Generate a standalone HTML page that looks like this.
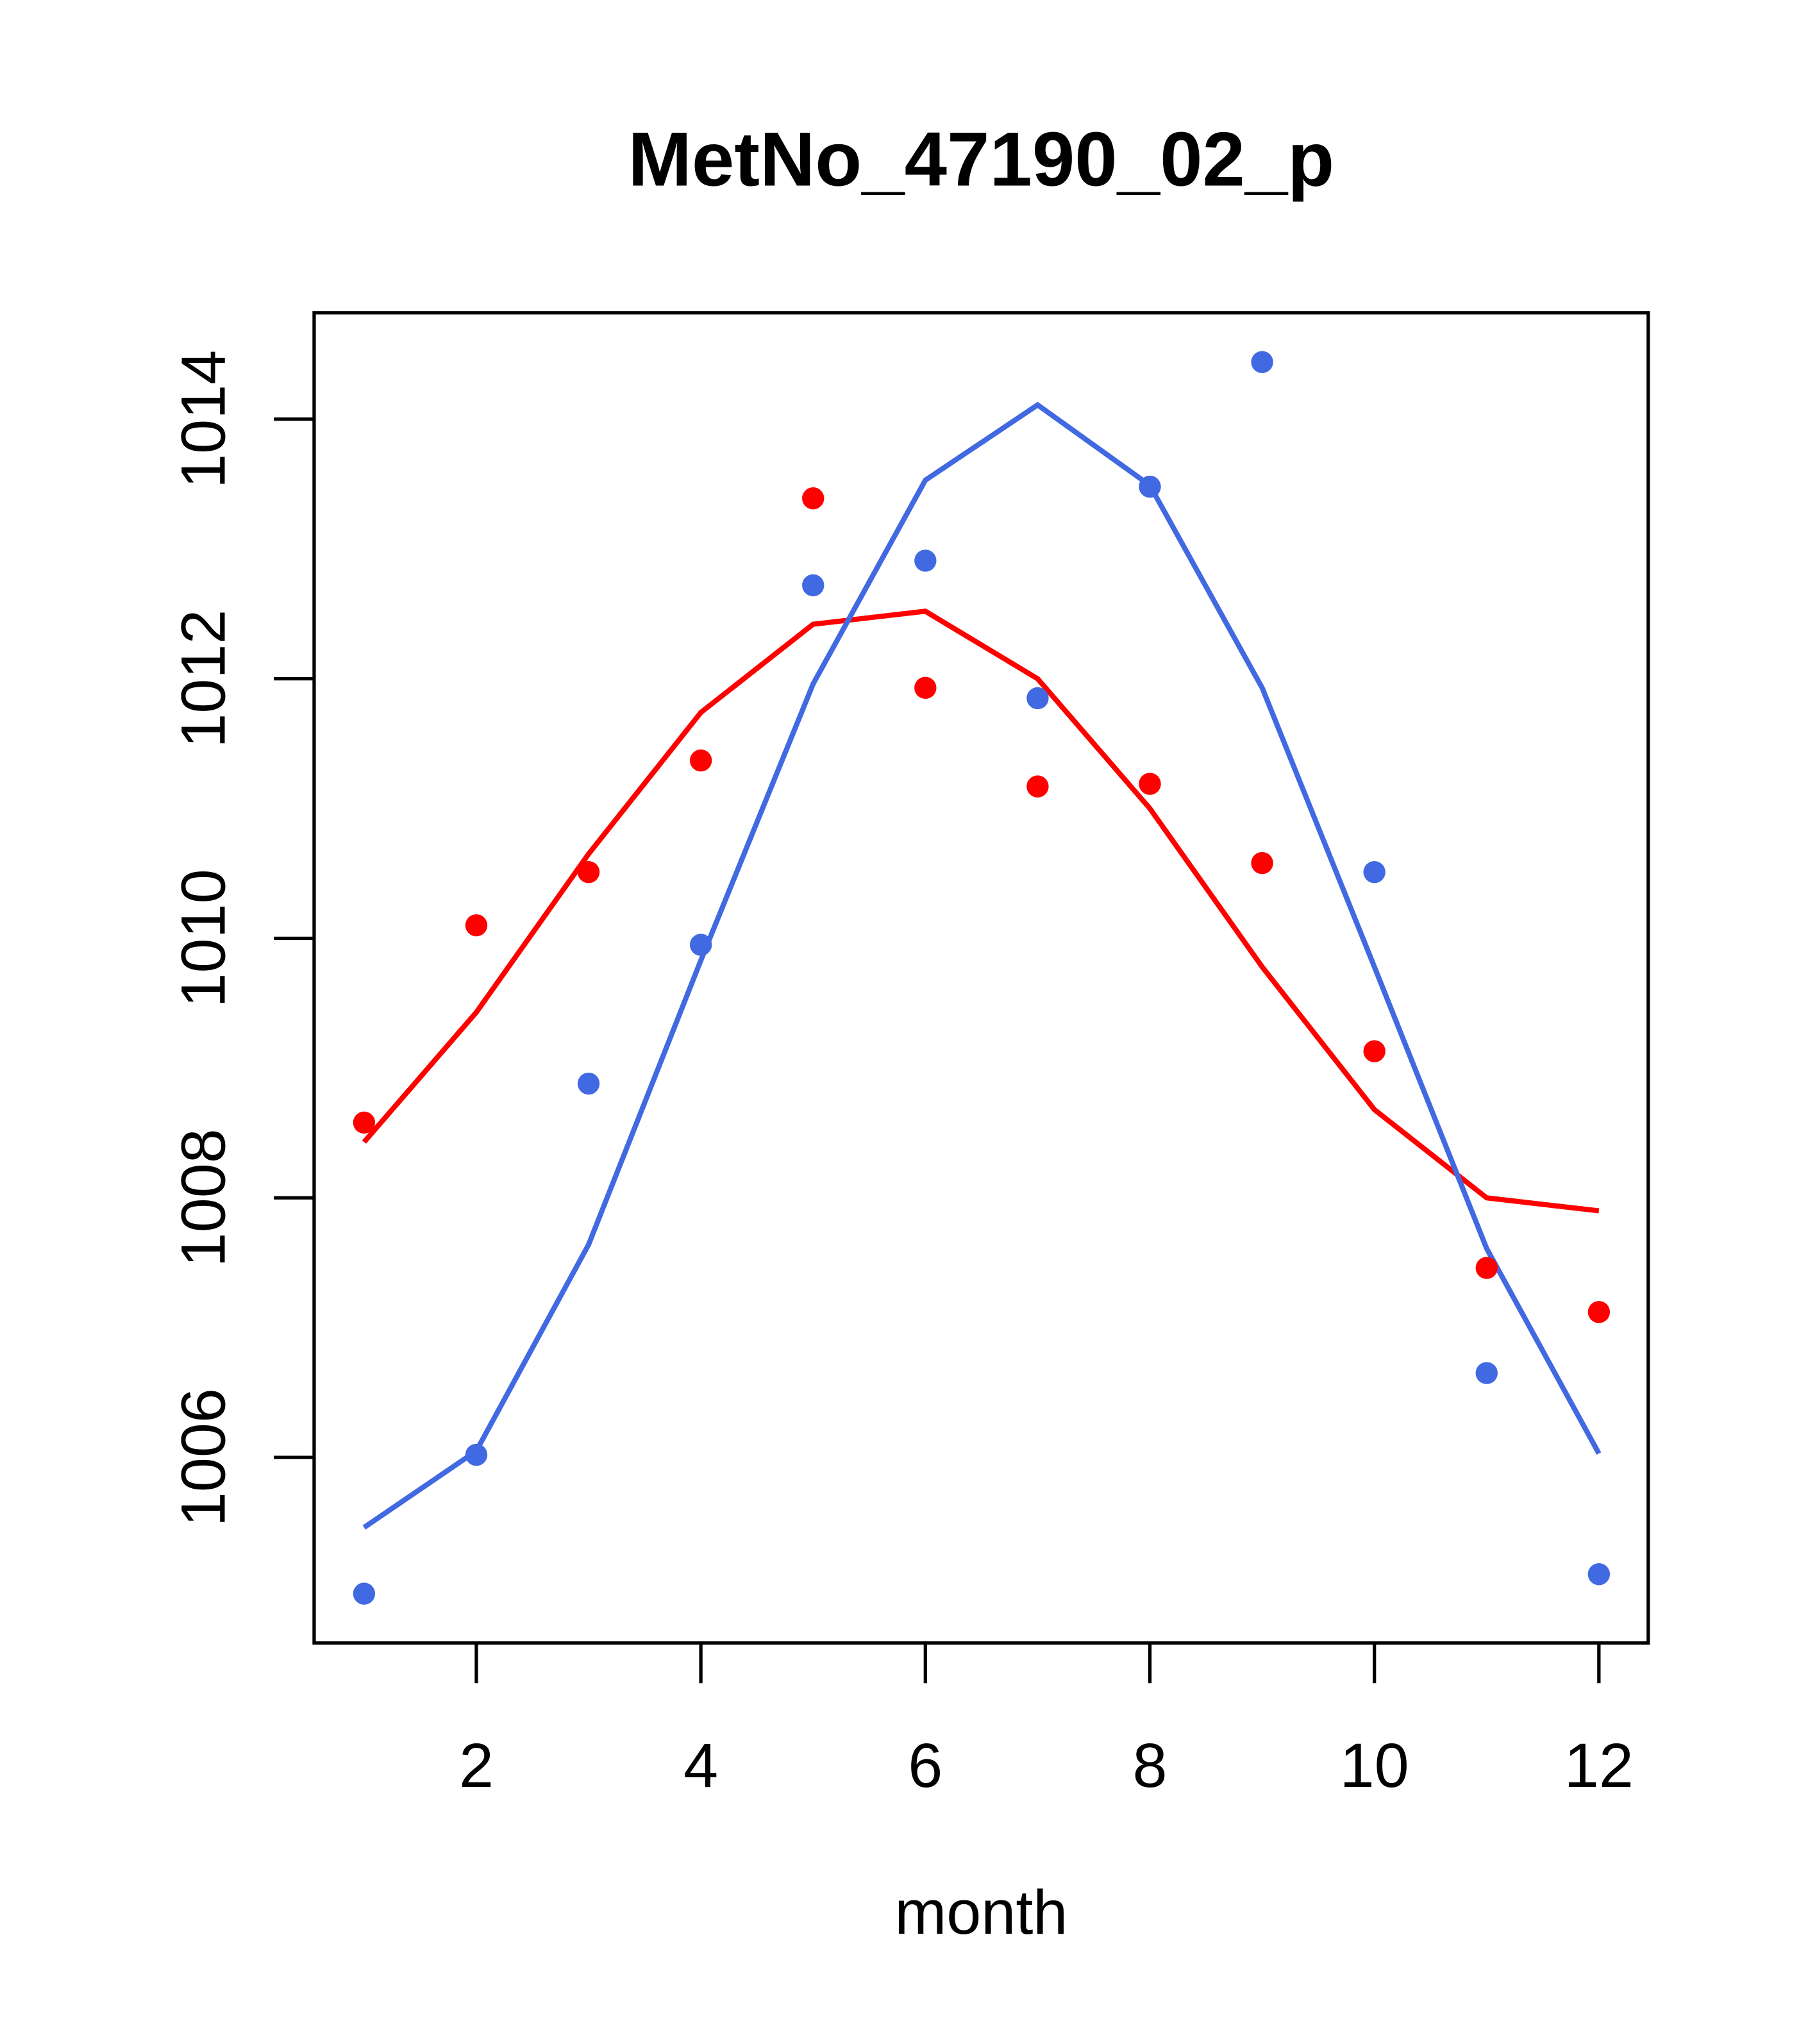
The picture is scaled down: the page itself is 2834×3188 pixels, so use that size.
<!DOCTYPE html>
<html><head><meta charset="utf-8"><style>html,body{margin:0;padding:0;background:#fff}svg{display:block}</style></head>
<body>
<svg id="chart" width="2834" height="3188" viewBox="0 0 1400 1575" xmlns="http://www.w3.org/2000/svg" font-family="Liberation Sans, sans-serif">
<rect width="1400" height="1575" fill="#fff"/>
<text x="756" y="143" font-size="59" font-weight="bold" text-anchor="middle">MetNo_47190_02_p</text>
<rect x="242" y="241" width="1028" height="1025" fill="none" stroke="#000" stroke-width="2.6"/>
<text x="756" y="1490" font-size="48" text-anchor="middle">month</text>
<g id="axes"></g>
<g id="series"></g>
</svg>
<script>
const months = [1,2,3,4,5,6,7,8,9,10,11,12];
const redPoints = [1008.58,1010.1,1010.51,1011.37,1013.39,1011.93,1011.17,1011.19,1010.58,1009.13,1007.46,1007.12];
const redLine = [1008.43,1009.43,1010.65,1011.74,1012.42,1012.52,1012.0,1011.0,1009.78,1008.68,1008.0,1007.9];
const bluePoints = [1004.95,1006.02,1008.88,1009.95,1012.72,1012.91,1011.85,1013.48,1014.44,1010.51,1006.65,1005.1];
const blueLine = [1005.46,1006.05,1007.64,1009.83,1011.96,1013.53,1014.11,1013.49,1011.93,1009.78,1007.61,1006.03];
const xTicks = [2,4,6,8,10,12];
const yTicks = [1006,1008,1010,1012,1014];

const NS = "http://www.w3.org/2000/svg";
function xs(m){ return 367 + (m-2)*86.5; }
function ys(v){ return 1123 - (v-1006)*100; }
function mk(tag, attrs, parent){ const e=document.createElementNS(NS,tag); for(const k in attrs) e.setAttribute(k,attrs[k]); parent.appendChild(e); return e; }
const axes=document.getElementById('axes'), series=document.getElementById('series');
xTicks.forEach(t=>{
  const l=mk('line',{x1:xs(t),x2:xs(t),y1:1266,y2:1297,stroke:'#000','stroke-width':2.6},axes);
  
  
  const tx=mk('text',{x:xs(t),y:1377,'font-size':48,'text-anchor':'middle'},axes);
  tx.textContent=t;
  
  
});
yTicks.forEach(t=>{
  const l=mk('line',{x1:211,x2:242,y1:ys(t),y2:ys(t),stroke:'#000','stroke-width':2.6},axes);
  
  
  const tx=mk('text',{x:0,y:0,'font-size':48,'text-anchor':'middle',transform:`translate(173,${ys(t)}) rotate(-90)`},axes);
  tx.textContent=t;
  
  
});
function line(vals,color,name){
  const p=mk('polyline',{points:vals.map((v,i)=>xs(months[i])+','+ys(v)).join(' '),fill:'none',stroke:color,'stroke-width':4},series);
  
  
}
function pts(vals,color,name){
  vals.forEach((v,i)=>{
    const c=mk('circle',{cx:xs(months[i]),cy:ys(v),r:8.5,fill:color},series);
    
    
  });
}
line(redLine,'#ff0000','red-line');
line(blueLine,'#4169e1','blue-line');
pts(redPoints,'#ff0000','red-point');
pts(bluePoints,'#4169e1','blue-point');
</script>
</body></html>
